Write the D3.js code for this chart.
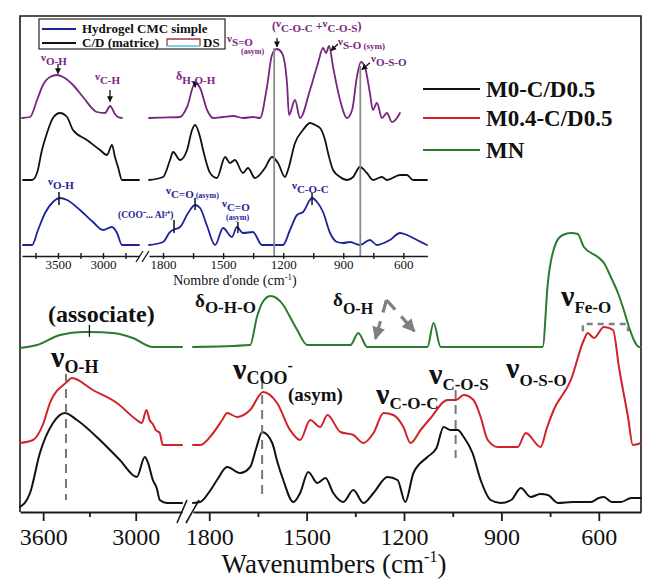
<!DOCTYPE html>
<html>
<head>
<meta charset="utf-8">
<script src="https://cdn.jsdelivr.net/npm/d3@7"></script>
<style>
  body { margin: 0; background: #fff; }
  svg { display: block; }
</style>
</head>
<body>
<svg id="chart" width="645" height="583"></svg>
<script>
// ---------- FTIR spectra: [wavenumber (cm-1), absorbance + offset (a.u.)] ----------
// Main plot, high-wavenumber segment (3750-2700) and fingerprint segment (1850-470)
const m0cdHigh = [[3750,1.25],[3685,4.75],[3621,14.75],[3536,22.25],[3459,24.75],[3381,23],[3232,18],[3103,13],[2993,8.75],[2941,13.75],[2922,12.5],[2889,8],[2864,6],[2844,3],[2799,2.25],[2700,2.25]];
const m0cdLow = [[1850,2.25],[1828,2.5],[1800,5],[1776,8],[1745,11.25],[1705,9.75],[1674,11.25],[1655,16],[1637,20],[1606,17.25],[1590,12.5],[1572,8],[1541,2.5],[1520,4.75],[1495,10],[1467,7.25],[1442,8.5],[1418,4.75],[1387,2.5],[1356,5.5],[1325,2.25],[1294,4.75],[1251,8.75],[1220,8],[1196,2.5],[1171,9.75],[1128,13.75],[1100,16],[1078,21.25],[1057,20.5],[1035,20.5],[1016,18.75],[989,14.75],[964,8],[933,3],[902,2.25],[870,3],[840,6],[810,3.75],[780,4.5],[757,4.25],[726,2.25],[680,2.5],[624,2.5],[600,3.5],[584,3.75],[560,2.5],[532,2.5],[500,3.5],[470,3.5]];

const m04cdHigh = [[3750,17.25],[3666,18],[3600,22],[3556,27.25],[3446,32.5],[3414,33.5],[3278,30.5],[3122,27.25],[2993,23],[2961,22.25],[2930,25.5],[2910,23],[2889,22],[2870,20.5],[2844,19.75],[2825,16.75],[2700,16.75]];
const m04cdLow = [[1850,16.75],[1828,16.75],[1788,19.75],[1760,23],[1745,24.75],[1714,23.75],[1674,25.5],[1634,30],[1591,27.25],[1551,20.5],[1520,18],[1489,23],[1458,21.25],[1436,24.25],[1396,20],[1356,19.25],[1325,17.25],[1294,19.75],[1263,24.75],[1233,24.25],[1202,21.25],[1180,17.25],[1149,20.5],[1118,23.5],[1066,28],[1040,28],[1016,29.25],[986,28],[964,23.75],[942,18],[911,16.25],[850,16.25],[825,19.75],[779,16.25],[760,21],[739,25.5],[686,33],[646,43],[634,44.75],[615,43.5],[584,46.25],[556,45.5],[538,36.25],[510,23.75],[495,16.75],[470,17.25]];

const mnHigh = [[3750,41],[3640,41.75],[3491,44.25],[3342,45],[3297,45],[3148,44.75],[3019,43.5],[2889,41.25],[2700,41.25]];
const mnLow = [[1850,41.25],[1674,41.75],[1653,48.75],[1637,52.25],[1612,54],[1572,51.75],[1551,48.75],[1529,45.5],[1498,41.75],[1365,41.75],[1341,44.75],[1313,41.25],[1128,41.25],[1109,47.25],[1087,41.25],[773,41.25],[757,57.25],[732,67.25],[711,69.25],[686,69.75],[665,69.5],[646,66.25],[603,63.75],[584,62.25],[563,58.75],[541,54.75],[523,50.5],[507,46.25],[492,43],[476,41.25],[470,41.25]];

// Inset spectra (DS, C/D matrix, plain CMC hydrogel)
const dsHigh = [[3900,34.5],[3811,34.75],[3733,39],[3667,42.75],[3589,44.75],[3511,45.25],[3444,44.75],[3333,42.75],[3222,39.75],[3067,36],[2978,35.75],[2920,37.5],[2890,36.5],[2867,35.5],[2833,34.75],[2789,34.5]];
const dsLow = [[1870,34.5],[1800,34.6],[1715,34.75],[1680,37.25],[1640,43.25],[1615,42],[1580,36.5],[1550,34.5],[1500,34.75],[1450,35],[1400,34.5],[1350,34.75],[1316,34.5],[1281,42.25],[1256,50.25],[1231,51.75],[1206,50.75],[1181,43.25],[1171,35.25],[1141,39],[1116,34.5],[1066,41.5],[1026,48.25],[1001,52],[986,50.75],[971,52.5],[951,47.25],[916,39],[881,34.5],[856,36.5],[832,44.75],[812,48.5],[792,47.25],[767,40.75],[752,36.5],[732,38.25],[707,34.5],[682,35.75],[657,33.5],[632,34.5],[617,35.75]];

const cdHigh = [[3889,19],[3789,19],[3733,20.75],[3678,26.5],[3622,30.75],[3556,34.5],[3478,35.75],[3400,34.75],[3333,31.5],[3178,29],[3033,26.5],[2956,25.25],[2900,27.75],[2867,24.75],[2833,22.25],[2789,19],[2600,19]];
const cdLow = [[1870,19],[1800,19.75],[1765,24],[1750,26],[1715,24],[1680,26.5],[1655,31.5],[1640,32.75],[1615,29.75],[1600,26.5],[1565,20.75],[1531,19.5],[1490,24.75],[1466,23.25],[1441,24],[1401,20.75],[1376,22],[1341,19.5],[1291,22],[1256,24.75],[1226,23.25],[1191,19.75],[1176,21.5],[1141,28.25],[1101,31.5],[1066,33.25],[1041,32.75],[1016,32],[991,29],[976,25.75],[951,21.5],[916,19.75],[881,19],[851,19.75],[817,22.25],[782,20.75],[752,19],[707,19.75],[682,19],[617,20.25],[582,20.25],[552,19],[482,19]];

const cmcHigh = [[3889,2.75],[3789,2.75],[3722,6.5],[3644,10.75],[3556,13.5],[3478,14.5],[3400,14],[3256,11.5],[3111,8.5],[3000,6.5],[2900,7.25],[2844,5.75],[2789,2.75],[2600,2.75]];
const cmcLow = [[1870,2.75],[1800,3.5],[1765,6],[1750,6.5],[1715,7.25],[1675,10.75],[1640,12.75],[1615,12],[1580,7.5],[1540,2.75],[1500,7],[1456,4.75],[1431,7.25],[1401,5.75],[1351,6],[1306,2.75],[1201,2.75],[1166,6.5],[1131,10.25],[1101,11],[1056,14.5],[1031,13.5],[1001,11],[966,5.75],[931,3.5],[901,3.25],[866,3.5],[817,2.75],[767,4],[732,2.75],[667,4],[617,5.75],[582,5.25],[532,4],[482,2.75]];

// Axis ticks
const highTicks = [3600, 3000];
const highMinor = [3300];
const lowTicks = [1800, 1500, 1200, 900, 600];
const lowMinor = [1650, 1350, 1050, 750];
const insetHighTicks = [3500, 3000];
const insetHighMinor = [3750, 3250, 2750];
const insetLowTicks = [1800, 1500, 1200, 900, 600];
const insetLowMinor = [1650, 1350, 1050, 750];

// Legends
const seriesNames = ["M0-C/D0.5", "M0.4-C/D0.5", "MN"];
const seriesColors = ["#111111", "#cf2229", "#2b7a2e"];
const insetNames = ["Hydrogel CMC simple", "C/D (matrice)", "DS"];

// ---------- drawing ----------
const FONT = '"Liberation Serif","Times New Roman",serif';
const PURPLE = "#75267e", NAVY = "#1e2298", GREY = "#808080";
const svg = d3.select("#chart");
svg.append("rect").attr("width", 645).attr("height", 583).attr("fill", "#fff");

const defs = svg.append("defs");
function marker(id, color, size) {
  defs.append("marker").attr("id", id).attr("viewBox", "0 0 10 10")
    .attr("refX", 9).attr("refY", 5).attr("markerWidth", size).attr("markerHeight", size)
    .attr("markerUnits", "userSpaceOnUse").attr("orient", "auto")
    .append("path").attr("d", "M0,0L10,5L0,10Z").attr("fill", color);
}
marker("arrK", "#111", 6);
marker("arrG", GREY, 13);

// main scales (broken wavenumber axis)
const xHigh = d3.scaleLinear().domain([3750, 2700]).range([20, 182]);
const xLow = d3.scaleLinear().domain([1850, 470]).range([193, 641]);
const y = d3.scaleLinear().domain([0, 124]).range([512, 16]);

// inset scales
const ixHigh = d3.scaleLinear().domain([3900, 2600]).range([22, 139]);
const ixLow = d3.scaleLinear().domain([1870, 480]).range([149, 427.4]);
const iy = d3.scaleLinear().domain([0, 60]).range([256, 16]);

function curve(pts, xs, ys, color, w) {
  svg.append("path").datum(pts)
    .attr("fill", "none").attr("stroke", color).attr("stroke-width", w)
    .attr("stroke-linejoin", "round").attr("stroke-linecap", "round")
    .attr("d", d3.line().x(d => xs(d[0])).y(d => ys(d[1])).curve(d3.curveMonotoneX));
}

// ----- main frame -----
svg.append("path")
  .attr("d", `M${xHigh.range()[0]},${y(0)}V${y(124)}H${xLow.range()[1]}V${y(0)}`)
  .attr("fill", "none").attr("stroke", "#1a1a1a").attr("stroke-width", 1.6);

// ----- axes -----
function bottomAxis(scale, major, minor, yPos, opts) {
  const g = svg.append("g").attr("transform", `translate(0,${yPos})`);
  g.call(d3.axisBottom(scale).tickValues(major).tickSize(opts.major).tickSizeOuter(0)
      .tickPadding(opts.pad).tickFormat(d3.format("d")));
  const gm = svg.append("g").attr("transform", `translate(0,${yPos})`);
  gm.call(d3.axisBottom(scale).tickValues(minor).tickSize(opts.minor).tickSizeOuter(0).tickFormat(""));
  gm.select(".domain").remove();
  [g, gm].forEach(s => {
    s.select(".domain").attr("stroke", "#1a1a1a").attr("stroke-width", opts.lw);
    s.selectAll(".tick line").attr("stroke", "#1a1a1a").attr("stroke-width", opts.lw);
    if (opts.both) s.selectAll(".tick line").attr("y1", -opts.both);
  });
  g.selectAll(".tick text").attr("font-family", FONT).attr("font-size", opts.fs).attr("fill", "#111");
  return g;
}
bottomAxis(xHigh, highTicks, highMinor, y(0), {major: 9, minor: 5, pad: 7, fs: 24, lw: 1.8});
bottomAxis(xLow, lowTicks, lowMinor, y(0), {major: 9, minor: 5, pad: 7, fs: 24, lw: 1.8});

// axis break marks
const bx = xHigh.range()[1], by = y(0);
[[-5, 5], [4, 17]].forEach(([a, b]) => {
  svg.append("line").attr("x1", bx + a).attr("y1", by + 11).attr("x2", bx + b).attr("y2", by - 12)
    .attr("stroke", "#1a1a1a").attr("stroke-width", 1.6);
});

svg.append("text").attr("x", 334).attr("y", 573).attr("text-anchor", "middle")
  .attr("font-family", FONT).attr("font-size", 27).attr("fill", "#111")
  .call(t => {
    t.append("tspan").text("Wavenumbers (cm");
    t.append("tspan").attr("dy", -11).attr("font-size", 16).text("-1");
    t.append("tspan").attr("dy", 11).text(")");
  });

// ----- main spectra -----
curve(mnHigh, xHigh, y, seriesColors[2], 2);
curve(mnLow, xLow, y, seriesColors[2], 2);
curve(m04cdHigh, xHigh, y, seriesColors[1], 2);
curve(m04cdLow, xLow, y, seriesColors[1], 2);
curve(m0cdHigh, xHigh, y, seriesColors[0], 2);
curve(m0cdLow, xLow, y, seriesColors[0], 2);

// main band markers
function dashedV(xs, wn, v0, v1) {
  svg.append("line").attr("x1", xs(wn)).attr("x2", xs(wn)).attr("y1", y(v0)).attr("y2", y(v1))
    .attr("stroke", "#777").attr("stroke-width", 2).attr("stroke-dasharray", "9,6");
}
dashedV(xHigh, 3452, 34.5, 3);
dashedV(xLow, 1637, 33, 3);
dashedV(xLow, 1041, 30.5, 13.5);

// tick on the associated O-H band of MN
svg.append("line").attr("x1", xHigh(3300)).attr("x2", xHigh(3300)).attr("y1", y(46.8)).attr("y2", y(43.8))
  .attr("stroke", "#111").attr("stroke-width", 1.3);

// Fe-O bracket
svg.append("path")
  .attr("d", `M${xLow(649)},${y(45.2)}V${y(47)}H${xLow(510)}V${y(45.2)}`)
  .attr("fill", "none").attr("stroke", GREY).attr("stroke-width", 2.5).attr("stroke-dasharray", "6,5");

// grey split arrow on δO-H
[[1288, 43.3], [1168, 45.2]].forEach(([wn, v]) => {
  svg.append("line").attr("x1", xLow(1254)).attr("y1", y(53)).attr("x2", xLow(wn)).attr("y2", y(v))
    .attr("stroke", GREY).attr("stroke-width", 3.2).attr("stroke-dasharray", "13,9,40")
    .attr("marker-end", "url(#arrG)");
});

// label helper: glyph + subscript
function label(x, yy, glyph, sub, o) {
  const t = svg.append("text").attr("x", x).attr("y", yy)
    .attr("font-family", FONT).attr("font-weight", "bold").attr("fill", o.color || "#111");
  t.append("tspan").attr("font-size", o.gs).text(glyph);
  t.append("tspan").attr("font-size", o.ss).attr("dy", o.dy).text(sub);
  return t;
}
function plain(x, yy, s, fs, color, weight) {
  return svg.append("text").attr("x", x).attr("y", yy).attr("font-family", FONT)
    .attr("font-weight", weight || "bold").attr("font-size", fs).attr("fill", color || "#111").text(s);
}

plain(48, 322, "(associate)", 24);
label(51, 367, "ν", "O-H", {gs: 30, ss: 18, dy: 6});
label(195, 307, "δ", "O-H-O", {gs: 19, ss: 17, dy: 6});
label(333, 306, "δ", "O-H", {gs: 19, ss: 16, dy: 8});
label(561, 306, "ν", "Fe-O", {gs: 30, ss: 17, dy: 7});
label(233, 379, "ν", "COO", {gs: 30, ss: 18, dy: 5})
  .call(t => t.append("tspan").attr("font-size", 16).attr("dy", -13).text("-"));
plain(288, 401, "(asym)", 19);
label(376, 404, "ν", "C-O-C", {gs: 30, ss: 17, dy: 5});
label(429, 384, "ν", "C-O-S", {gs: 30, ss: 17, dy: 6});
label(506, 378, "ν", "O-S-O", {gs: 30, ss: 17, dy: 8});

// ----- main legend -----
seriesNames.forEach((name, i) => {
  const ly = [89, 118, 150][i];
  svg.append("line").attr("x1", 423).attr("x2", 480).attr("y1", ly).attr("y2", ly)
    .attr("stroke", seriesColors[i]).attr("stroke-width", 2);
  plain(486, ly + 8, name, 23);
});

// ----- inset -----
curve(dsHigh, ixHigh, iy, PURPLE, 1.8);
curve(dsLow, ixLow, iy, PURPLE, 1.8);
curve(cdHigh, ixHigh, iy, "#111", 1.8);
curve(cdLow, ixLow, iy, "#111", 1.8);
curve(cmcHigh, ixHigh, iy, NAVY, 1.8);
curve(cmcLow, ixLow, iy, NAVY, 1.8);

// reference lines through the S=O and O-S-O bands
[[1245, 52], [815, 47.5]].forEach(([wn, top]) => {
  svg.append("line").attr("x1", ixLow(wn)).attr("x2", ixLow(wn)).attr("y1", iy(top)).attr("y2", iy(0))
    .attr("stroke", "#8a8a8a").attr("stroke-width", 1.8);
});

bottomAxis(ixHigh, insetHighTicks, insetHighMinor, iy(0), {major: 3, minor: 3, pad: 1, fs: 13, lw: 1.4, both: 3});
bottomAxis(ixLow, insetLowTicks, insetLowMinor, iy(0), {major: 3, minor: 3, pad: 1, fs: 13, lw: 1.4, both: 3});
const ibx = ixHigh.range()[1], iby = iy(0);
[[-3, 4], [3, 10]].forEach(([a, b]) => {
  svg.append("line").attr("x1", ibx + a).attr("y1", iby + 6).attr("x2", ibx + b).attr("y2", iby - 5)
    .attr("stroke", "#1a1a1a").attr("stroke-width", 1.3);
});
svg.append("text").attr("x", 235).attr("y", 285).attr("text-anchor", "middle")
  .attr("font-family", FONT).attr("font-size", 14).attr("fill", "#111")
  .call(t => {
    t.append("tspan").text("Nombre d'onde (cm");
    t.append("tspan").attr("dy", -5).attr("font-size", 9).text("-1");
    t.append("tspan").attr("dy", 5).text(")");
  });

// inset arrows
function arrow(xs, wn0, v0, wn1, v1) {
  svg.append("line").attr("x1", xs(wn0)).attr("y1", iy(v0)).attr("x2", xs(wn1)).attr("y2", iy(v1))
    .attr("stroke", "#111").attr("stroke-width", 1.3).attr("marker-end", "url(#arrK)");
}
arrow(ixHigh, 3500, 48, 3500, 45.6);
arrow(ixHigh, 2922, 41.5, 2922, 38.6);
arrow(ixLow, 1640, 43.8, 1640, 42.2);
arrow(ixLow, 1231, 54.5, 1231, 52.3);
arrow(ixLow, 927, 53, 961, 51.3);
arrow(ixLow, 767, 48.3, 807, 46.6);

// inset band ticks on the CMC hydrogel
function itick(xs, wn, v0, v1) {
  svg.append("line").attr("x1", xs(wn)).attr("x2", xs(wn)).attr("y1", iy(v0)).attr("y2", iy(v1))
    .attr("stroke", "#111").attr("stroke-width", 1.5);
}
itick(ixHigh, 3489, 16, 12.75);
itick(ixLow, 1640, 14.5, 11.5);
itick(ixLow, 1745, 9, 5.75);
itick(ixLow, 1426, 8.5, 5.75);
itick(ixLow, 1056, 15.75, 12.75);

// inset band labels
const small = (color) => ({gs: 11, ss: 11, dy: 4, color});
label(41, 61, "ν", "O-H", small(PURPLE));
label(95, 80, "ν", "C-H", small(PURPLE));
label(176, 80, "δ", "H-O-H", {gs: 12, ss: 11, dy: 4, color: PURPLE});
label(227, 42, "ν", "S=O", small(PURPLE));
plain(241, 54, "(asym)", 8, PURPLE);
svg.append("text").attr("x", 272).attr("y", 30).attr("font-family", FONT).attr("font-weight", "bold")
  .attr("fill", PURPLE).attr("font-size", 12)
  .call(t => {
    t.append("tspan").text("(");
    t.append("tspan").attr("font-size", 11).attr("dy", -3).text("ν");
    t.append("tspan").attr("font-size", 11).attr("dy", 5).text("C-O-C");
    t.append("tspan").attr("dy", -2).text(" +");
    t.append("tspan").attr("font-size", 11).attr("dy", -3).text("ν");
    t.append("tspan").attr("font-size", 11).attr("dy", 5).text("C-O-S");
    t.append("tspan").attr("dy", -2).text(")");
  });
label(338, 45, "ν", "S-O", small(PURPLE))
  .call(t => t.append("tspan").attr("font-size", 9).text(" (sym)"));
label(371, 62, "ν", "O-S-O", small(PURPLE));

label(48, 185, "ν", "O-H", small(NAVY));
label(166, 194, "ν", "C=O", small(NAVY))
  .call(t => t.append("tspan").attr("font-size", 8).text(" (asym)"));
plain(118, 218, "(COO⁻... Al³⁺)", 9.5, NAVY);
label(222, 207, "ν", "C=O", small(NAVY));
plain(226, 220, "(asym)", 8, NAVY);
label(292, 189, "ν", "C-O-C", small(NAVY));

// inset legend
svg.append("rect").attr("x", 39).attr("y", 19).attr("width", 186).attr("height", 30)
  .attr("fill", "#fff").attr("stroke", "#222").attr("stroke-width", 1.2);
[[NAVY, 29, insetNames[0]], ["#111", 43, insetNames[1]]].forEach(([c, ly, s]) => {
  svg.append("line").attr("x1", 42).attr("x2", 76).attr("y1", ly).attr("y2", ly)
    .attr("stroke", c).attr("stroke-width", 1.8);
  plain(82, ly + 4, s, 13);
});
svg.append("path").attr("d", "M167,46V39H200V46").attr("fill", "none")
  .attr("stroke", "#a83250").attr("stroke-width", 1.3);
svg.append("line").attr("x1", 167).attr("x2", 200).attr("y1", 46).attr("y2", 46)
  .attr("stroke", "#4cc4d4").attr("stroke-width", 1.3);
plain(203, 47, insetNames[2], 13);
</script>
</body>
</html>
